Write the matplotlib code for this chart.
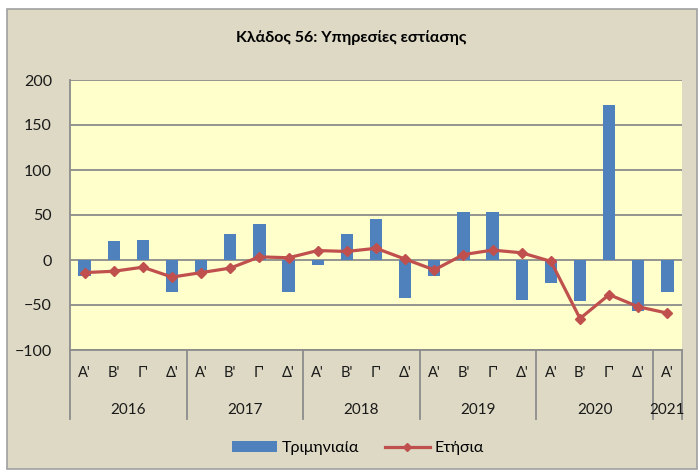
import matplotlib
matplotlib.use("Agg")
import matplotlib.pyplot as plt
from matplotlib.patches import Rectangle, Patch
from matplotlib.lines import Line2D

plt.rcParams["font.family"] = ["Lato", "DejaVu Sans"]

# data
quarters = ["Α'", "Β'", "Γ'", "Δ'"] * 5 + ["Α'"]
years = ["2016", "2017", "2018", "2019", "2020", "2021"]
year_len = [4, 4, 4, 4, 4, 1]
quarterly = [-18, 21.5, 22.5, -35, -15, 29, 40.5, -36, -6, 29, 45.5, -42,
             -18, 53, 53, -44, -25, -45, 172, -57, -35.5]
annual = [-14, -12.5, -8, -19, -14, -9, 3.5, 2.5, 10.5, 9.5, 13, 1,
          -11, 6, 11, 8, -1.5, -65, -38.5, -52, -59]

BAR_C = "#4F81BD"
LINE_C = "#C0504D"
BG = "#DDD9C4"
PLOT_BG = "#FFFFCC"
GRID_C = "#8C8C8C"

fig = plt.figure(figsize=(6.99, 4.72), dpi=100, facecolor="white")
fig.patches.append(Rectangle((7 / 699, 3 / 472), 690 / 699, 460 / 472,
                             transform=fig.transFigure, facecolor=BG,
                             edgecolor="#A0A0A0", lw=1.2, zorder=-10))

ax = fig.add_axes([70 / 699, 1 - 350 / 472, 612 / 699, 270 / 472])
ax.set_facecolor(PLOT_BG)
x = list(range(len(quarterly)))
ax.bar(x, quarterly, width=0.42, color=BAR_C, zorder=3)
ax.plot(x, annual, color=LINE_C, lw=2.3, marker="D", ms=5.5, zorder=4)

ax.set_xlim(-0.5, len(x) - 0.5)
ax.set_ylim(-100, 200)
ax.set_yticks(range(-100, 201, 50))
ax.yaxis.grid(True, color=GRID_C, lw=1.3)
ax.set_axisbelow(True)
ax.tick_params(axis="y", length=0, labelsize=11.5, pad=13, colors="#1a1a1a")
ax.set_xticks([])
for s in ["top", "right"]:
    ax.spines[s].set_visible(False)
for s in ["left", "bottom"]:
    ax.spines[s].set_color(GRID_C)
    ax.spines[s].set_linewidth(1.3)

# two level category axis
tr = ax.get_xaxis_transform()
for i, q in enumerate(quarters):
    ax.text(i, -0.085, q, transform=tr, ha="center", va="center",
            fontsize=10.5, color="#1a1a1a", clip_on=False)
start = 0
bounds = [-0.5]
for y, n in zip(years, year_len):
    ax.text(start + (n - 1) / 2, -0.222, y, transform=tr, ha="center",
            va="center", fontsize=11, color="#1a1a1a", clip_on=False)
    start += n
    bounds.append(start - 0.5)
for b in bounds:
    ax.plot([b, b], [0, -0.256], transform=tr, color=GRID_C, lw=1.3,
            clip_on=False)

fig.text(351 / 699, 1 - 38 / 472, "Κλάδος 56: Υπηρεσίες εστίασης",
         ha="center", va="center", fontsize=11.5, fontweight="bold")

handles = [Patch(facecolor=BAR_C, label="Τριμηνιαία"),
           Line2D([], [], color=LINE_C, lw=2.3, marker="D", ms=4.5, label="Ετήσια")]
fig.legend(handles=handles, loc="center", bbox_to_anchor=(358 / 699, 1 - 448 / 472),
           ncol=2, frameon=False, fontsize=11.5, handlelength=2.8,
           handletextpad=0.3, columnspacing=1.6)

fig.savefig("out.png", dpi=100, facecolor=fig.get_facecolor())
